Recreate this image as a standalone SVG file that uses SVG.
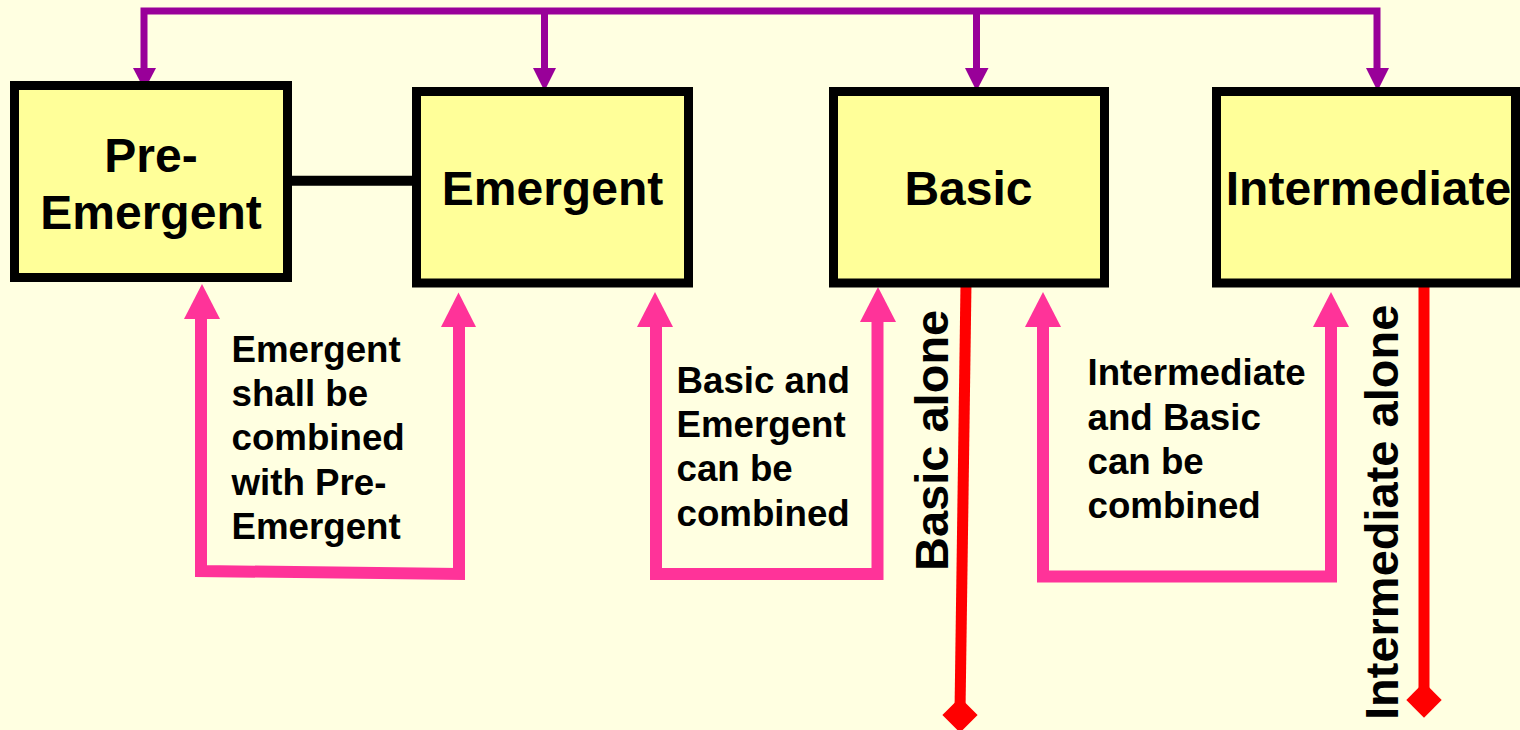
<svg xmlns="http://www.w3.org/2000/svg" width="1520" height="730" viewBox="0 0 1520 730">
<style>
.box{fill:#FFFF99;stroke:#000;stroke-width:9}
.bt{font-family:"Liberation Sans",Arial,sans-serif;font-weight:bold;font-size:48px;fill:#000;text-anchor:middle}
.lt{font-family:"Liberation Sans",Arial,sans-serif;font-weight:bold;font-size:36.7px;fill:#000}
.vt{font-family:"Liberation Sans",Arial,sans-serif;font-weight:bold;font-size:47px;fill:#000}
.pur{fill:none;stroke:#990099;stroke-width:7}
.purh{fill:#990099}
.pink{fill:none;stroke:#FF3399;stroke-width:12}
.pinkh{fill:#FF3399}
.red{fill:none;stroke:#FF0000;stroke-width:11}
.redh{fill:#FF0000}
</style>
<rect width="1520" height="730" fill="#FFFFE1"/>
<g id="connectors">
<line x1="292" y1="180.7" x2="412" y2="180.7" stroke="#000" stroke-width="10"/>
<path class="pur" d="M144,70 V11 H1377 V70"/>
<path class="pur" d="M544.5,11 V70"/>
<path class="pur" d="M976.5,11 V70"/>
<polygon class="purh" points="133,68 156,68 144.5,90"/>
<polygon class="purh" points="533,68 556,68 544.5,91"/>
<polygon class="purh" points="965,68 988.5,68 976.5,91"/>
<polygon class="purh" points="1366,68 1389,68 1377.5,91"/>
<path class="pink" d="M201,317 V571 L459,574 V325"/>
<polygon class="pinkh" points="184,319 220,319 202,284"/>
<polygon class="pinkh" points="441,327 476,327 458.5,292.5"/>
<path class="pink" d="M656,325 V574 H877.5 V320"/>
<polygon class="pinkh" points="637,327 673,327 655,292"/>
<polygon class="pinkh" points="860,322 896,322 878,287"/>
<path class="pink" d="M1043,325 V576.5 H1331 V325"/>
<polygon class="pinkh" points="1025,327 1061,327 1043,292"/>
<polygon class="pinkh" points="1313,327 1349,327 1331,292"/>
<path class="red" d="M966,283 L960,712"/>
<polygon class="redh" points="960,697.4 977.6,715 960,732.6 942.4,715"/>
<path class="red" d="M1424,283 V696"/>
<polygon class="redh" points="1424,682.3 1441.7,700 1424,717.7 1406.3,700"/>
</g>
<g id="node-pre-emergent">
<rect class="box" x="14.5" y="85.5" width="273" height="192"/>
<text class="bt" x="151" y="172">Pre-</text>
<text class="bt" x="151" y="229">Emergent</text>
</g>
<g id="node-emergent">
<rect class="box" x="416.5" y="91.5" width="272" height="191.5"/>
<text class="bt" x="552.5" y="205">Emergent</text>
</g>
<g id="node-basic">
<rect class="box" x="833.5" y="91.5" width="271" height="191.5"/>
<text class="bt" x="968.5" y="205">Basic</text>
</g>
<g id="node-intermediate">
<rect class="box" x="1216.5" y="91.5" width="299" height="191.5"/>
<text class="bt" x="1368.5" y="205">Intermediate</text>
</g>
<g id="labels">
<text class="lt" x="231.5"><tspan x="231.5" y="362">Emergent</tspan><tspan x="231.5" y="406">shall be</tspan><tspan x="231.5" y="450">combined</tspan><tspan x="231.5" y="495">with Pre-</tspan><tspan x="231.5" y="539">Emergent</tspan></text>
<text class="lt" x="676.5"><tspan x="676.5" y="393">Basic and</tspan><tspan x="676.5" y="437">Emergent</tspan><tspan x="676.5" y="481">can be</tspan><tspan x="676.5" y="526">combined</tspan></text>
<text class="lt" x="1087.5"><tspan x="1087.5" y="385">Intermediate</tspan><tspan x="1087.5" y="430">and Basic</tspan><tspan x="1087.5" y="474">can be</tspan><tspan x="1087.5" y="518">combined</tspan></text>
<text class="vt" transform="translate(948,571) rotate(-90)">Basic alone</text>
<text class="vt" transform="translate(1398,720) rotate(-90)">Intermediate alone</text>
</g>
</svg>
